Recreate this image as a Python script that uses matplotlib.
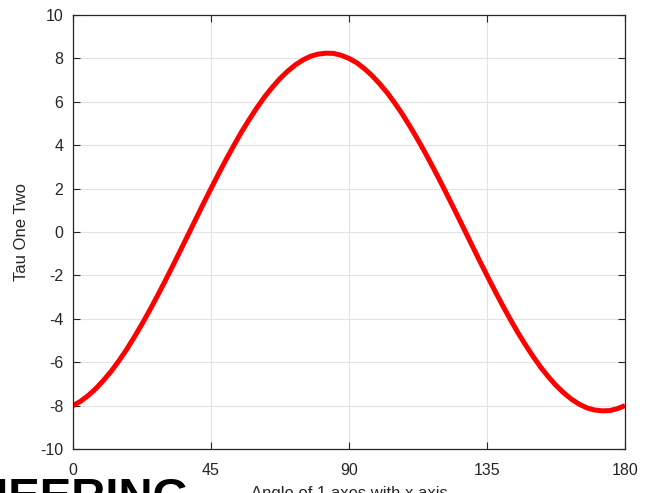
import matplotlib
matplotlib.use('Agg')
import matplotlib.pyplot as plt

# Angulo (graus) e tensao de cisalhamento
angle = [0, 2.5, 5, 7.5, 10, 12.5, 15, 17.5, 20, 22.5, 25, 27.5, 30, 32.5, 35, 37.5,
         40, 42.5, 45, 47.5, 50, 52.5, 55, 57.5, 60, 62.5, 65, 67.5, 70, 72.5, 75, 77.5,
         80, 82.5, 85, 87.5, 90, 92.5, 95, 97.5, 100, 102.5, 105, 107.5, 110, 112.5, 115,
         117.5, 120, 122.5, 125, 127.5, 130, 132.5, 135, 137.5, 140, 142.5, 145, 147.5,
         150, 152.5, 155, 157.5, 160, 162.5, 165, 167.5, 170, 172.5, 175, 177.5, 180]
tau12 = [-8.00, -7.80, -7.53, -7.21, -6.83, -6.41, -5.93, -5.41, -4.84, -4.24, -3.61,
         -2.95, -2.27, -1.57, -0.86, -0.14, 0.58, 1.30, 2.00, 2.69, 3.36, 4.00, 4.62,
         5.19, 5.73, 6.23, 6.67, 7.07, 7.41, 7.70, 7.93, 8.10, 8.20, 8.24, 8.23, 8.14,
         8.00, 7.80, 7.53, 7.21, 6.83, 6.41, 5.93, 5.41, 4.84, 4.24, 3.61, 2.95, 2.27,
         1.57, 0.86, 0.14, -0.58, -1.30, -2.00, -2.69, -3.36, -4.00, -4.62, -5.19, -5.73,
         -6.23, -6.67, -7.07, -7.41, -7.70, -7.93, -8.10, -8.20, -8.24, -8.23, -8.14, -8.00]
xticks = [0, 45, 90, 135, 180]
yticks = list(range(-10, 11, 2))

plt.rcParams['font.family'] = ['Liberation Sans', 'DejaVu Sans']
plt.rcParams['axes.unicode_minus'] = False

fig = plt.figure(figsize=(6.47, 4.93), dpi=100)
ax = fig.add_axes([0.1128, 0.0892, 0.8532, 0.8804])

ax.plot(angle, tau12, color='#ff0000', linewidth=3.6, solid_capstyle='butt', solid_joinstyle='round')

ax.set_xlim(0, 180)
ax.set_ylim(-10, 10)
ax.set_xticks(xticks)
ax.set_yticks(yticks)
ax.grid(True, color='#e3e3e3', linewidth=0.8)
ax.set_axisbelow(True)
ax.tick_params(direction='in', top=True, right=True, labelsize=11.5, length=5,
               width=0.8, color='#262626', labelcolor='#262626')
ax.tick_params(axis='x', pad=10)
ax.tick_params(axis='y', pad=7)
for s in ax.spines.values():
    s.set_color('#262626')
    s.set_linewidth(0.9)

ax.set_ylabel('Tau One Two', fontsize=12, color='#262626', labelpad=8)
ax.set_xlabel('Angle of 1 axes with x axis', fontsize=12, color='#262626', labelpad=6)

# marca d'agua cortada na parte de baixo
fig.text(190 / 647, -0.036, 'ENGINEERING', fontsize=34, fontweight='bold',
         color='black', ha='right', va='baseline')

fig.savefig('out.png', dpi=100)
